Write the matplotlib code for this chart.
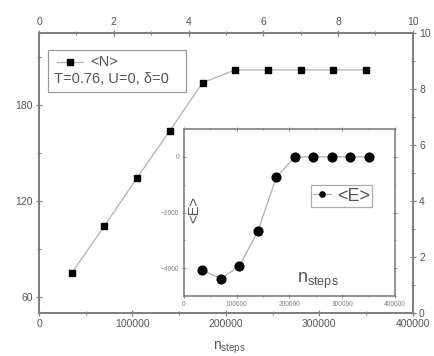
import matplotlib
matplotlib.use("Agg")
import matplotlib.pyplot as plt
from matplotlib.ticker import MultipleLocator
from matplotlib.patches import Rectangle

plt.rcParams['font.family'] = ['Liberation Sans', 'DejaVu Sans']

# data
n_steps = [35000, 70000, 105000, 140000, 175000, 210000, 245000, 280000, 315000, 350000]
N_vals = [75, 104.5, 134.5, 164, 194, 202, 202, 202, 202, 202]
E_vals = [-4070, -4380, -3920, -2680, -730, 0, 0, 0, 0, 0]
legend_N = "<N>"
legend_E = "<E>"
params_text = "T=0.76, U=0, \u03b4=0"

line_col = '#b0b0b0'
spine_col = '#808080'
text_col = '#555555'

fig = plt.figure(figsize=(4.35, 3.56), dpi=100)
ax = fig.add_axes([0.0897, 0.1208, 0.8593, 0.7862])

ax.plot(n_steps, N_vals, '-', color=line_col, lw=0.9, marker='s', ms=4.5,
        mfc='black', mec='black')
ax.set_xlim(0, 400000)
ax.set_ylim(50, 225)
ax.xaxis.set_major_locator(MultipleLocator(100000))
ax.xaxis.set_minor_locator(MultipleLocator(50000))
ax.yaxis.set_major_locator(MultipleLocator(60))
ax.yaxis.set_minor_locator(MultipleLocator(30))
ax.text(0.465, -0.125, r'$\mathregular{n_{steps}}$', transform=ax.transAxes,
        fontsize=10, color=text_col, ha='left', va='center')

axt = ax.twiny()
axt.set_xlim(0, 10)
axt.xaxis.set_major_locator(MultipleLocator(2))
axt.xaxis.set_minor_locator(MultipleLocator(1))
axr = ax.twinx()
axr.set_ylim(0, 10)
axr.yaxis.set_major_locator(MultipleLocator(2))
axr.yaxis.set_minor_locator(MultipleLocator(1))

for a in (ax, axt, axr):
    for s in a.spines.values():
        s.set_color(spine_col)
        s.set_linewidth(1.4)
    a.tick_params(which='major', direction='inout', length=5, width=0.9,
                  colors=spine_col, labelcolor=text_col, labelsize=7.5, pad=2)
    a.tick_params(which='minor', direction='inout', length=3, width=0.8,
                  colors=spine_col)

# legend box for <N> with parameter text
ax.add_patch(Rectangle((0.024, 0.79), 0.368, 0.15, transform=ax.transAxes,
                       fill=False, ec='#999999', lw=0.9))
ax.plot([0.048, 0.118], [0.895, 0.895], transform=ax.transAxes, color=line_col, lw=0.9)
ax.plot([0.0825], [0.895], transform=ax.transAxes, marker='s', ms=4.5, color='black')
ax.text(0.137, 0.895, legend_N, transform=ax.transAxes, fontsize=10.5,
        color=text_col, ha='left', va='center')
ax.text(0.04, 0.835, params_text, transform=ax.transAxes, fontsize=10.5,
        color=text_col, ha='left', va='center')

# inset
axi = fig.add_axes([0.423, 0.1685, 0.485, 0.469])
axi.plot(n_steps, E_vals, '-', color=line_col, lw=0.9, marker='o', ms=6.3,
         mfc='black', mec='black', label=legend_E)
axi.set_xlim(0, 400000)
axi.set_ylim(-5000, 1000)
axi.xaxis.set_major_locator(MultipleLocator(100000))
axi.xaxis.set_minor_locator(MultipleLocator(50000))
axi.yaxis.set_major_locator(MultipleLocator(2000))
axi.yaxis.set_minor_locator(MultipleLocator(1000))
for s in axi.spines.values():
    s.set_color(spine_col)
    s.set_linewidth(1.2)
axi.tick_params(which='both', direction='inout', top=True, right=True,
                colors=spine_col, labelcolor='#808080', labelsize=4.8, pad=1.5)
axi.tick_params(which='major', length=3.5, width=0.7)
axi.tick_params(which='minor', length=2, width=0.6)
legi = axi.legend(loc='upper left', bbox_to_anchor=(0.6, 0.665), frameon=True,
                  fancybox=False, edgecolor='#999999', fontsize=13,
                  handlelength=1.0, handletextpad=0.3, borderpad=0.15,
                  borderaxespad=0, markerscale=0.6, labelcolor=text_col)
legi.get_frame().set_linewidth(0.9)
axi.text(0.047, 0.52, legend_E, transform=axi.transAxes, rotation=90,
         fontsize=10.5, color=text_col, ha='center', va='center')
axi.text(0.535, 0.09, r'$\mathregular{n_{steps}}$', transform=axi.transAxes,
         fontsize=13, color=text_col, ha='left', va='center')

fig.savefig('out.png', dpi=100)
